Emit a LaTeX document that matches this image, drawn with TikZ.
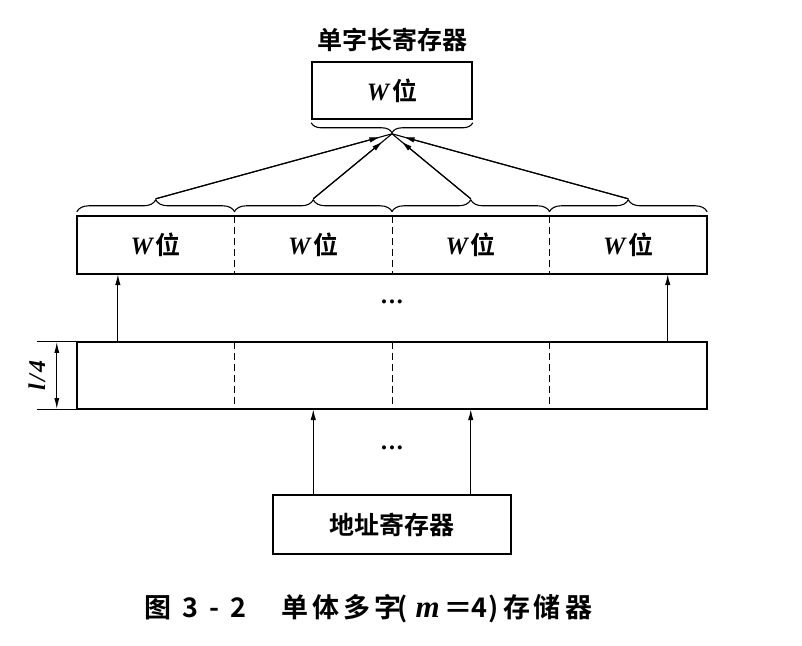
\documentclass[tikz,border=0pt]{standalone}
\usepackage{fontspec}
\setmainfont{Liberation Serif}
\newfontfamily\cjk{Noto Sans CJK SC}[BoldFont={Noto Sans CJK SC Bold}]
\usetikzlibrary{decorations.pathreplacing,arrows.meta,calc}
\newcommand{\wwei}{{\bfseries\itshape W}\hspace{3pt}{\cjk\bfseries 位}}
\newcommand{\tridots}{{\fontsize{17}{17}\selectfont\textbullet\hspace{2pt}\textbullet\hspace{2pt}\textbullet}}
\newcommand{\capglyph}[2]{\makebox[0pt][c]{#1}\hspace{#2}}
\begin{document}
\begin{tikzpicture}[x=1pt,y=1pt,
  boxline/.style={line width=1.6pt},
  cell/.style={minimum width=157.5pt, inner sep=0pt, font=\fontsize{25}{25}\selectfont},
  wcell/.style={cell, minimum height=58pt},
  mcell/.style={cell, minimum height=67pt},
  reg/.style={draw, boxline, inner sep=0pt, font=\fontsize{25}{25}\selectfont},
  divider/.style={line width=1.1pt, dash pattern=on 7pt off 4pt},
  bracestyle/.style={decorate, line width=1.1pt, decoration={brace, amplitude=12pt, raise=4pt}},
  arr/.style={line width=1.1pt},
  tip/.style={arr, -{Latex[length=11pt,width=5.5pt]}},
  lbl/.style={font=\fontsize{25}{25}\selectfont}
]
\useasboundingbox (0,0) rectangle (802,645);

% top register
\node[reg, minimum width=160pt, minimum height=57pt] (top) at (392,554.5) {\wwei};
\node[lbl] (toplbl) at (392,605) {\cjk\bfseries 单字长寄存器};

% wide register row
\node[wcell] (c1) at (155.75,400) {\wwei};
\node[wcell] (c2) at (313.25,400) {\wwei};
\node[wcell] (c3) at (470.75,400) {\wwei};
\node[wcell] (c4) at (628.25,400) {\wwei};
\draw[boxline] (c1.north west) rectangle (c4.south east);
\foreach \i in {1,2,3}{\draw[divider] (c\i.north east) -- (c\i.south east);}

% memory row
\node[mcell] (m1) at (155.75,269.5) {};
\node[mcell] (m2) at (313.25,269.5) {};
\node[mcell] (m3) at (470.75,269.5) {};
\node[mcell] (m4) at (628.25,269.5) {};
\draw[boxline] (m1.north west) rectangle (m4.south east);
\foreach \i in {1,2,3}{\draw[divider] (m\i.north east) -- (m\i.south east);}

% address register
\node[reg, minimum width=238pt, minimum height=59pt] (addr) at (392,120.5) {\cjk\bfseries 地址寄存器};

% braces
\foreach \i in {1,2,3,4}{
  \draw[bracestyle] (c\i.north west) -- (c\i.north east);
  \coordinate (t\i) at ($(c\i.north)+(0,17)$);
}
\draw[bracestyle, decoration={brace, amplitude=10pt, raise=3pt}] (top.south east) -- (top.south west);
\coordinate (conv) at ($(top.south)+(0,-14)$);

% converging arrows
\foreach \i in {1,2,3,4}{
  \draw[arr] (t\i) -- (conv);
  \draw[tip, shorten >=12pt] (t\i) -- (conv);
}

% vertical arrows
\draw[tip] ($(m1.north west)!0.26!(m1.north east)$) -- ($(c1.south west)!0.26!(c1.south east)$);
\draw[tip] ($(m4.north west)!0.75!(m4.north east)$) -- ($(c4.south west)!0.75!(c4.south east)$);
\draw[tip] (addr.north -| m2.center) -- (m2.south);
\draw[tip] (addr.north -| m3.center) -- (m3.south);

% dots
\node (dots1) at (392,341) {\tridots};
\node (dots2) at (392,195) {\tridots};

% dimension l/4
\draw[line width=1.1pt] (m1.north west) -- ++(-40,0) coordinate (e1);
\draw[line width=1.1pt] (m1.south west) -- ++(-40,0) coordinate (e2);
\draw[arr, {Latex[length=11pt,width=5pt]}-{Latex[length=11pt,width=5pt]}] ($(e1)+(20,0)$) -- ($(e2)+(20,0)$);
\node[font=\fontsize{24}{24}\selectfont, rotate=90] (dim) at (37,269.5) {\bfseries\itshape l\hspace{2pt}/\hspace{2pt}4};

% caption
\node[anchor=base west, inner sep=0pt, font=\fontsize{27}{27}\selectfont\cjk\bfseries] (cap) at (157.5,28)
 {\capglyph{图}{32.5pt}\capglyph{3}{24pt}\capglyph{-}{24.5pt}\capglyph{2}{56pt}%
  \capglyph{单}{31pt}\capglyph{体}{31pt}\capglyph{多}{31pt}\capglyph{字}{15pt}%
  \capglyph{(}{25pt}\capglyph{{\rmfamily\itshape\fontsize{31}{31}\selectfont m}}{31pt}\capglyph{\scalebox{1.5}[1]{=}}{20.5pt}%
  \capglyph{4}{14.5pt}\capglyph{)}{23pt}\capglyph{存}{30pt}\capglyph{储}{32pt}\capglyph{器}{0pt}};
\end{tikzpicture}
\end{document}
